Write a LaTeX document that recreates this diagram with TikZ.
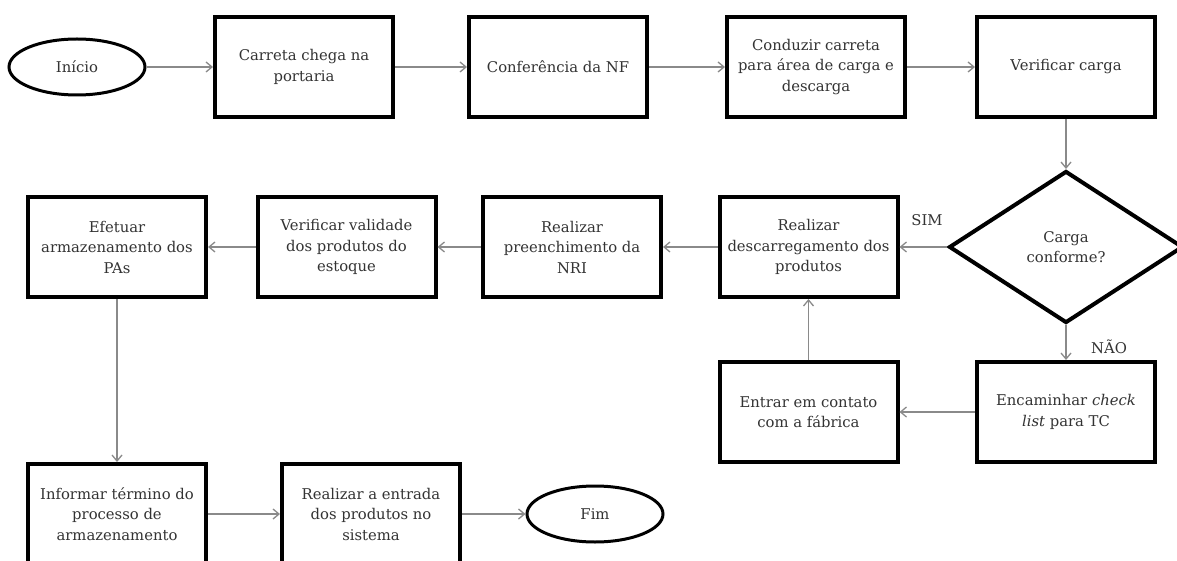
\documentclass[tikz,border=0pt]{standalone}
\usepackage{fontspec}
\setmainfont{DejaVu Serif}
\usetikzlibrary{shapes.geometric,arrows.meta}
\definecolor{txt}{HTML}{333333}
\definecolor{arrowgray}{HTML}{8A8A8A}
\begin{document}
\begin{tikzpicture}[x=1pt,y=-1pt,
  every node/.style={text=txt},
  boxnode/.style={draw=black, line width=4pt, rectangle, minimum width=178pt, minimum height=100pt,
    align=center, font=\fontsize{14.8}{20.5}\selectfont, inner sep=2pt},
  term/.style={draw=black, line width=3pt, ellipse, minimum width=136pt, minimum height=56pt,
    font=\fontsize{14.8}{20.5}\selectfont, inner sep=0pt},
  decis/.style={draw=black, line width=4pt, diamond, minimum width=234pt, minimum height=152pt,
    align=center, font=\fontsize{14.8}{20.5}\selectfont, inner sep=0pt},
  flow/.style={draw=arrowgray, line width=1.3pt, -{Straight Barb[length=6pt,width=10pt]}},
  lbl/.style={font=\fontsize{14.8}{20.5}\selectfont}
]
\useasboundingbox (0,0) rectangle (1177,561);
\clip (0,0) rectangle (1177,561);
\fill[white] (0,0) rectangle (1177,561);

% Row 1
\node[term] (ini) at (77,67) {Início};
\node[boxnode] (b1) at (304,67) {Carreta chega na\\portaria};
\node[boxnode] (b2) at (558,67) {Conferência da NF};
\node[boxnode] (b3) at (816,67) {Conduzir carreta\\para área de carga e\\descarga};
\node[boxnode] (b4) at (1066,67) {Verificar carga};

% Row 2
\node[decis] (dec) at (1066,247) {Carga\\conforme?};
\node[boxnode] (desc) at (808.5,247) {Realizar\\descarregamento dos\\produtos};
\node[boxnode] (pre) at (572,247) {Realizar\\preenchimento da\\NRI};
\node[boxnode] (ver) at (346.5,247) {Verificar validade\\dos produtos do\\estoque};
\node[boxnode] (efe) at (117,247) {Efetuar\\armazenamento dos\\PAs};

% Row 3
\node[boxnode] (ent) at (808.5,412) {Entrar em contato\\com a fábrica};
\node[boxnode] (enc) at (1066,412) {Encaminhar \textit{check}\\\textit{list} para TC};

% Row 4
\node[boxnode] (inf) at (117,514) {Informar término do\\processo de\\armazenamento};
\node[boxnode] (entr) at (371,514) {Realizar a entrada\\dos produtos no\\sistema};
\node[term] (fim) at (595,514) {Fim};

% Labels
\node[lbl] (sim) at (927,220) {SIM};
\node[lbl] (nao) at (1109,347) {NÃO};

% Connectors
\draw[flow] (ini) -- (b1);
\draw[flow] (b1) -- (b2);
\draw[flow] (b2) -- (b3);
\draw[flow] (b3) -- (b4);
\draw[flow] (b4.south) -- (dec.north);
\draw[flow] (dec.west) -- (desc.east);
\draw[flow] (dec.south) -- (enc.north);
\draw[flow] (enc.west) -- (ent.east);
\draw[flow] (ent.north) -- (desc.south);
\draw[flow] (desc.west) -- (pre.east);
\draw[flow] (pre.west) -- (ver.east);
\draw[flow] (ver.west) -- (efe.east);
\draw[flow] (efe.south) -- (inf.north);
\draw[flow] (inf.east) -- (entr.west);
\draw[flow] (entr.east) -- (fim.west);
\end{tikzpicture}
\end{document}
